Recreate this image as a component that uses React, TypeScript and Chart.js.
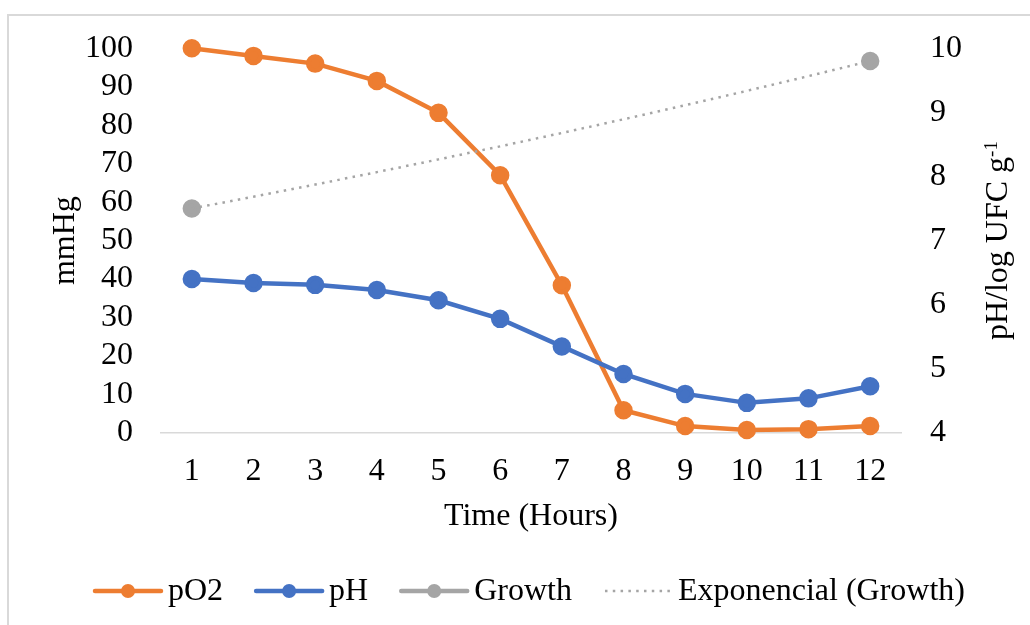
import { useEffect, useRef } from "react";
import { Chart, registerables } from "chart.js";

Chart.register(...registerables);

// Sampling times (hours)
const hours = ["1", "2", "3", "4", "5", "6", "7", "8", "9", "10", "11", "12"];

// Dissolved oxygen partial pressure (mmHg, left axis)
const pO2 = [100, 98, 96, 91.5, 83.2, 67, 38.4, 5.9, 1.8, 0.8, 1.0, 1.8];

// pH (right axis)
const pH = [6.4, 6.34, 6.31, 6.23, 6.07, 5.78, 5.35, 4.92, 4.61, 4.47, 4.54, 4.73];

// Microbial growth, log UFC g-1 (right axis), measured at start and end only
const growth: (number | null)[] = [7.5, null, null, null, null, null, null, null, null, null, null, 9.8];

const X_TITLE = "Time (Hours)";
const Y_TITLE = "mmHg";
const Y1_TITLE = "pH/log UFC g";
const Y1_TITLE_SUP = "-1";

const FONT = "'Liberation Serif', 'Times New Roman', serif";
const FONT_SIZE = 32;

const ORANGE = "#ED7D31";
const BLUE = "#4472C4";
const GREY = "#A5A5A5";

// Exponential trendline (least squares on ln y) over the measured growth points
function exponentialTrend(values: (number | null)[]): number[] {
  const xs: number[] = [];
  const ls: number[] = [];
  values.forEach((v, i) => {
    if (v != null) {
      xs.push(i + 1);
      ls.push(Math.log(v));
    }
  });
  const n = xs.length;
  const mx = xs.reduce((s, x) => s + x, 0) / n;
  const ml = ls.reduce((s, l) => s + l, 0) / n;
  let sxy = 0;
  let sxx = 0;
  for (let i = 0; i < n; i++) {
    sxy += (xs[i] - mx) * (ls[i] - ml);
    sxx += (xs[i] - mx) * (xs[i] - mx);
  }
  const b = sxy / sxx;
  const a = ml - b * mx;
  return values.map((_, i) => Math.exp(a + b * (i + 1)));
}

const framePlugin = {
  id: "frame",
  beforeDraw(chart: Chart) {
    const { ctx } = chart;
    ctx.save();
    ctx.fillStyle = "#fff";
    ctx.fillRect(0, 0, chart.width, chart.height);
    ctx.fillStyle = "#D9D9D9";
    ctx.fillRect(7, 14, 2, chart.height);
    ctx.fillRect(7, 14, chart.width, 2);
    ctx.restore();
  },
};

const titlesPlugin = {
  id: "axisTitles",
  afterDraw(chart: Chart) {
    const { ctx, chartArea: a } = chart;
    const cx = (a.left + a.right) / 2;
    const cy = (a.top + a.bottom) / 2;
    ctx.save();
    ctx.fillStyle = "#000";
    ctx.font = `${FONT_SIZE}px ${FONT}`;
    ctx.textBaseline = "middle";
    ctx.textAlign = "center";
    ctx.fillText(X_TITLE, cx, 517);

    ctx.textBaseline = "alphabetic";
    ctx.save();
    ctx.translate(74, cy);
    ctx.rotate(-Math.PI / 2);
    ctx.fillText(Y_TITLE, 0, 0);
    ctx.restore();

    // Right-hand title with superscript exponent
    ctx.save();
    ctx.font = `${FONT_SIZE}px ${FONT}`;
    const wMain = ctx.measureText(Y1_TITLE).width;
    ctx.font = `19px ${FONT}`;
    const wSup = ctx.measureText(Y1_TITLE_SUP).width;
    const total = wMain + wSup;
    ctx.translate(1007, cy);
    ctx.rotate(-Math.PI / 2);
    ctx.textAlign = "left";
    ctx.font = `${FONT_SIZE}px ${FONT}`;
    ctx.fillText(Y1_TITLE, -total / 2, 0);
    ctx.font = `19px ${FONT}`;
    ctx.fillText(Y1_TITLE_SUP, -total / 2 + wMain, -10);
    ctx.restore();

    ctx.restore();
  },
};

const legendPlugin = {
  id: "lineLegend",
  afterDraw(chart: Chart) {
    const { ctx } = chart;
    const lineLen = 70;
    const textGap = 5;
    const itemGap = 31;
    const y = 591;
    ctx.save();
    ctx.font = `${FONT_SIZE}px ${FONT}`;
    const items = chart.data.datasets.map((ds: any) => ({
      ds,
      w: lineLen + textGap + ctx.measureText(ds.label).width,
    }));
    const totalW = items.reduce((s, it) => s + it.w, 0) + itemGap * (items.length - 1);
    let x = 529 - totalW / 2;
    for (const { ds, w } of items) {
      ctx.save();
      ctx.strokeStyle = ds.borderColor;
      ctx.lineWidth = ds.borderWidth;
      ctx.lineCap = ds.borderDash && ds.borderDash.length ? "butt" : "round";
      ctx.setLineDash(ds.borderDash || []);
      ctx.beginPath();
      ctx.moveTo(x + 2, y);
      ctx.lineTo(x + lineLen - 2, y);
      ctx.stroke();
      ctx.restore();
      if (ds.pointRadius > 0) {
        ctx.beginPath();
        ctx.fillStyle = ds.pointBackgroundColor;
        ctx.arc(x + lineLen / 2, y, ds.pointRadius, 0, Math.PI * 2);
        ctx.fill();
      }
      ctx.fillStyle = "#000";
      ctx.textAlign = "left";
      ctx.textBaseline = "middle";
      ctx.fillText(ds.label, x + lineLen + textGap, y + 1);
      x += w + itemGap;
    }
    ctx.restore();
  },
};

export default function App() {
  const canvasRef = useRef<HTMLCanvasElement | null>(null);

  useEffect(() => {
    const canvas = canvasRef.current;
    if (!canvas) return;
    const tickFont = { family: FONT, size: FONT_SIZE };
    const trend = exponentialTrend(growth);

    const chart = new Chart(canvas, {
      type: "line",
      data: {
        labels: hours,
        datasets: [
          {
            label: "pO2",
            data: pO2,
            yAxisID: "y",
            borderColor: ORANGE,
            backgroundColor: ORANGE,
            pointBackgroundColor: ORANGE,
            pointBorderColor: ORANGE,
            borderWidth: 4.5,
            pointRadius: 7,
            tension: 0,
            clip: false,
            order: 4,
          } as any,
          {
            label: "pH",
            data: pH,
            yAxisID: "y1",
            borderColor: BLUE,
            backgroundColor: BLUE,
            pointBackgroundColor: BLUE,
            pointBorderColor: BLUE,
            borderWidth: 4.5,
            pointRadius: 7,
            tension: 0,
            clip: false,
            order: 3,
          },
          {
            label: "Growth",
            data: growth,
            yAxisID: "y1",
            borderColor: GREY,
            backgroundColor: GREY,
            pointBackgroundColor: GREY,
            pointBorderColor: GREY,
            borderWidth: 4.5,
            pointRadius: 7,
            spanGaps: false,
            clip: false,
            order: 2,
          },
          {
            label: "Exponencial (Growth)",
            data: trend,
            yAxisID: "y1",
            borderColor: GREY,
            backgroundColor: GREY,
            pointBackgroundColor: GREY,
            borderWidth: 2.5,
            borderDash: [2.5, 5.3],
            pointRadius: 0,
            tension: 0,
            clip: false,
            order: 1,
          },
        ],
      },
      options: {
        responsive: false,
        animation: false,
        devicePixelRatio: 1,
        events: [],
        layout: { padding: { top: 45, left: 0, right: 0, bottom: 0 } },
        plugins: {
          legend: { display: false },
          tooltip: { enabled: false },
          title: { display: false },
        },
        scales: {
          x: {
            type: "category",
            offset: true,
            grid: { display: false, drawTicks: false },
            border: { display: true, color: "#D9D9D9", width: 1.5 },
            ticks: { color: "#000", font: tickFont, padding: 19, maxRotation: 0, autoSkip: false },
            afterFit: (scale: any) => {
              scale.height = 192;
            },
          },
          y: {
            type: "linear",
            position: "left",
            min: 0,
            max: 100,
            grid: { display: false, drawTicks: false },
            border: { display: false },
            ticks: { stepSize: 10, color: "#000", font: tickFont, padding: 28, autoSkip: false },
            afterFit: (scale: any) => {
              scale.width = 161;
            },
          },
          y1: {
            type: "linear",
            position: "right",
            min: 4,
            max: 10,
            grid: { display: false, drawTicks: false },
            border: { display: false },
            ticks: { stepSize: 1, color: "#000", font: tickFont, padding: 29, autoSkip: false },
            afterFit: (scale: any) => {
              scale.width = 129;
            },
          },
        },
      },
      plugins: [framePlugin, titlesPlugin, legendPlugin],
    });

    return () => chart.destroy();
  }, []);

  return (
    <div style={{ position: "fixed", left: 0, top: 0, width: 1030, height: 625, overflow: "hidden" }}>
      <canvas ref={canvasRef} width={1030} height={625} style={{ display: "block", width: 1030, height: 625 }} />
    </div>
  );
}
